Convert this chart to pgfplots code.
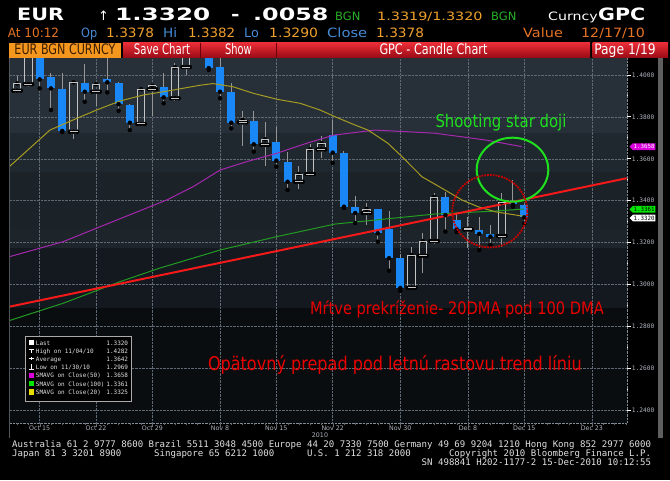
\documentclass[border=0pt]{standalone}
\usepackage{pgfplots}
\pgfplotsset{compat=1.18}
\usepackage{pgfplotstable}
\usepackage{fontspec}
\usepackage{graphicx}
\usetikzlibrary{shapes.symbols}
\setmainfont{DejaVu Sans}
\newfontfamily\monofont{DejaVu Sans Mono}

\definecolor{candleblue}{RGB}{25,135,245}
\definecolor{wickgray}{RGB}{150,150,150}
\definecolor{hollowgray}{RGB}{195,195,195}
\definecolor{sma20}{RGB}{165,155,35}
\definecolor{sma50}{RGB}{165,40,175}
\definecolor{sma100}{RGB}{35,155,35}
\definecolor{trendred}{RGB}{245,25,25}
\definecolor{annred}{RGB}{235,0,0}
\definecolor{anngreen}{RGB}{30,225,30}
\definecolor{circred}{RGB}{200,0,0}
\definecolor{amber}{RGB}{240,160,45}
\definecolor{bbgorange}{RGB}{230,115,35}
\definecolor{steel}{RGB}{70,140,215}
\definecolor{bgngreen}{RGB}{40,175,40}
\definecolor{gridgray}{RGB}{95,105,115}
\definecolor{axgray}{RGB}{130,140,150}
\definecolor{panelline}{RGB}{80,85,90}
\definecolor{lbl}{RGB}{175,180,190}
\definecolor{foot}{RGB}{225,225,225}
\definecolor{boxborder}{RGB}{170,170,170}
\definecolor{scrollgray}{RGB}{95,95,95}
\definecolor{legyellow}{RGB}{230,220,0}
\definecolor{bandA}{RGB}{39,48,56}
\definecolor{bandB}{RGB}{32,40,47}
\definecolor{bandC}{RGB}{27,34,40}
\definecolor{bandD}{RGB}{29,36,42}
\definecolor{bandE}{RGB}{19,25,30}
\definecolor{bandF}{RGB}{10,13,16}
\definecolor{boxorange}{RGB}{245,150,30}
\definecolor{boxtext}{RGB}{60,30,0}
\definecolor{redtop}{RGB}{235,45,55}
\definecolor{redbot}{RGB}{150,10,20}
\definecolor{redsep}{RGB}{110,0,10}
\definecolor{tagmag}{RGB}{220,0,220}
\definecolor{taggreen}{RGB}{0,230,0}

% EUR daily candles, x = trading day (Oct 15 = 0)
\pgfplotstableread{
d  o      h      l      c
-2 1.3925 1.3995 1.3913 1.3960
-1 1.3956 1.4150 1.3944 1.4120
3  1.3729 1.3976 1.3693 1.3965
5  1.3920 1.3968 1.3853 1.3956
9  1.3766 1.3936 1.3761 1.3932
10 1.3932 1.3951 1.3804 1.3949
12 1.3889 1.4056 1.3877 1.4037
13 1.4038 1.4190 1.4000 1.4150
14 1.4160 1.4282 1.4110 1.4230
18 1.3774 1.3828 1.3661 1.3785
20 1.3666 1.3777 1.3565 1.3693
23 1.3490 1.3565 1.3454 1.3527
24 1.3527 1.3670 1.3518 1.3645
25 1.3645 1.3709 1.3602 1.3674
29 1.3341 1.3389 1.3284 1.3360
33 1.2983 1.3179 1.2972 1.3140
34 1.3136 1.3245 1.3054 1.3207
35 1.3207 1.3436 1.3193 1.3417
38 1.3262 1.3323 1.3174 1.3265
41 1.3231 1.3435 1.3180 1.3392
}\upcandles

\pgfplotstableread{
d  o      h      l      c
0  1.4130 1.4150 1.3936 1.3979
1  1.3992 1.4008 1.3833 1.3936
2  1.3933 1.4008 1.3728 1.3733
4  1.3963 1.4051 1.3872 1.3920
6  1.3979 1.4080 1.3917 1.3965
7  1.3963 1.3965 1.3829 1.3861
8  1.3857 1.3860 1.3737 1.3772
11 1.3944 1.4008 1.3865 1.3893
15 1.4170 1.4230 1.4024 1.4033
16 1.4037 1.4090 1.3889 1.3920
17 1.3920 1.3960 1.3745 1.3772
19 1.3782 1.3828 1.3634 1.3669
21 1.3681 1.3750 1.3562 1.3591
22 1.3586 1.3634 1.3451 1.3490
26 1.3713 1.3785 1.3580 1.3629
27 1.3626 1.3637 1.3365 1.3371
28 1.3370 1.3422 1.3293 1.3341
30 1.3359 1.3362 1.3204 1.3244
31 1.3263 1.3352 1.3065 1.3125
32 1.3126 1.3145 1.2969 1.2983
36 1.3416 1.3443 1.3252 1.3331
37 1.3307 1.3341 1.3250 1.3263
39 1.3260 1.3323 1.3164 1.3241
40 1.3241 1.3284 1.3188 1.3228
42 1.3395 1.3499 1.3371 1.3382
43 1.3378 1.3382 1.3290 1.3320
}\downcandles

\begin{document}
\begin{tikzpicture}
\useasboundingbox (0,0) rectangle (670pt,480pt);
\fill[black] (0,0) rectangle (670pt,480pt);

% background bands, panel lines (image pixel coordinates, y down)
\begin{scope}[x=1pt,y=-1pt,yshift=480pt]
  \fill[bandA] (10,58) rectangle (626.7,133);
  \fill[bandB] (10,133) rectangle (626.7,172);
  \fill[bandC] (10,172) rectangle (626.7,229);
  \fill[bandD] (10,229) rectangle (626.7,248);
  \fill[bandE] (10,248) rectangle (626.7,308);
  \fill[bandF] (10,308) rectangle (626.7,423.3);
  \draw[panelline] (9.5,58) -- (9.5,438);
  \draw[axgray, densely dotted] (626.7,58) -- (626.7,423.3);
  \draw[axgray, densely dotted] (10,423.3) -- (626.7,423.3);
\end{scope}

\begin{axis}[
  at={(10pt,56.7pt)}, anchor=south west,
  width=616.7pt, height=365.3pt, scale only axis,
  xmin=-2.635, xmax=52.09, ymin=1.23365, ymax=1.40812,
  axis line style={draw=none},
  xtick={0,5,10,16,21,26,32,38,43,49},
  xticklabels={Oct 15,Oct 22,Oct 29,Nov 8,Nov 15,Nov 22,Nov 30,Dec 8,Dec 15,Dec 23},
  minor xtick={-2,-1,...,52},
  ytick={1.24,1.26,1.28,1.30,1.32,1.34,1.36,1.38,1.40},
  minor ytick={1.25,1.27,1.29,1.31,1.33,1.35,1.37,1.39},
  xtick pos=bottom, ytick pos=right, yticklabel pos=right,
  tick align=outside,
  major tick length=4pt, minor tick length=1.5pt,
  y tick style={white, line width=0.9pt},
  x tick style={gridgray},
  minor tick style={axgray},
  grid=major,
  major grid style={gridgray, densely dotted, line width=0.5pt},
  yticklabel style={font=\monofont\fontsize{6.2}{7}\selectfont, text=lbl, inner sep=1pt,
    /pgf/number format/.cd, fixed, fixed zerofill, precision=4},
  xticklabel style={font=\fontsize{6.3}{7}\selectfont, text=lbl, inner sep=1pt, yshift=3pt},
  /pgf/number format/assume math mode=true,
]
% falling candles: wick and filled body
\addplot[forget plot, only marks, mark=none, error bars/.cd, y dir=plus, y explicit,
  error mark=none, error bar style={draw=wickgray, line width=1pt}]
  table[x=d, y=l, y error plus expr=\thisrow{h}-\thisrow{l}] {\downcandles};
\addplot[forget plot, only marks, mark=none, error bars/.cd, y dir=plus, y explicit,
  error mark=none, error bar style={draw=candleblue, line width=8pt}]
  table[x=d, y=c, y error plus expr=\thisrow{o}-\thisrow{c}] {\downcandles};
% rising candles: wicks and hollow body
\addplot[forget plot, only marks, mark=none, error bars/.cd, y dir=plus, y explicit,
  error mark=none, error bar style={draw=wickgray, line width=1pt}]
  table[x=d, y=c, y error plus expr=\thisrow{h}-\thisrow{c}] {\upcandles};
\addplot[forget plot, only marks, mark=none, error bars/.cd, y dir=minus, y explicit,
  error mark=none, error bar style={draw=wickgray, line width=1pt}]
  table[x=d, y=o, y error minus expr=\thisrow{o}-\thisrow{l}] {\upcandles};
\addplot[forget plot, only marks, mark=none, error bars/.cd, y dir=plus, y explicit,
  error mark=none, error bar style={draw=hollowgray, line width=1pt}]
  table[x expr=\thisrow{d}-0.33, y=o, y error plus expr=\thisrow{c}-\thisrow{o}] {\upcandles};
\addplot[forget plot, only marks, mark=none, error bars/.cd, y dir=plus, y explicit,
  error mark=none, error bar style={draw=hollowgray, line width=1pt}]
  table[x expr=\thisrow{d}+0.33, y=o, y error plus expr=\thisrow{c}-\thisrow{o}] {\upcandles};
\addplot[forget plot, only marks, mark=-, mark size=4pt, mark options={draw=hollowgray, line width=1pt}]
  table[x=d, y=o] {\upcandles};
\addplot[forget plot, only marks, mark=-, mark size=4pt, mark options={draw=hollowgray, line width=1pt}]
  table[x=d, y=c] {\upcandles};

% SMAVG 100
\addplot[sma100, line width=1pt] coordinates {
  (-2.70,1.2827) (2.09,1.2910) (7.13,1.3013) (10.67,1.3078) (16.0,1.3164)
  (21.03,1.3228) (26.2,1.3288) (35.07,1.3336) (40.4,1.3350) (42.97,1.3360)};
% SMAVG 50
\addplot[sma50, line width=1pt] coordinates {
  (-2.70,1.3132) (2.09,1.3204) (5.35,1.3275) (8.31,1.3339) (11.27,1.3403)
  (13.63,1.3467) (16.0,1.3546) (18.37,1.3586) (21.03,1.3626) (23.69,1.3674)
  (26.11,1.3713) (29.75,1.3737) (35.07,1.3722) (39.51,1.3690) (42.77,1.3658)};
% SMAVG 20
\addplot[sma20, line width=1pt] coordinates {
  (-2.70,1.3562) (0.91,1.3737) (2.95,1.3785) (5.06,1.3833) (7.13,1.3876)
  (9.17,1.3904) (11.83,1.3928) (14.22,1.3951) (15.38,1.3959) (17.15,1.3944)
  (18.93,1.3913) (21.06,1.3884) (23.10,1.3865) (24.87,1.3833) (26.20,1.3801)
  (27.98,1.3761) (29.13,1.3737) (30.90,1.3674) (32.15,1.3610) (33.92,1.3514)
  (35.96,1.3451) (37.47,1.3403) (38.89,1.3371) (40.40,1.3347) (42.97,1.3325)};
% summer up-trend line
\addplot[trendred, line width=2pt] coordinates {(-2.635,1.2894) (52.09,1.3507)};
\end{axis}

\begin{scope}[x=1pt,y=-1pt,yshift=480pt, every node/.style={inner sep=0pt, outer sep=0pt}]
  % annotations
  \draw[anngreen, line width=2pt] (512.5,169.7) ellipse [x radius=35.8pt, y radius=32pt];
  \draw[circred, line width=1.8pt, densely dotted] (489.8,211.2) ellipse [x radius=37.5pt, y radius=36.2pt];
  \node[anchor=base, text=anngreen, font=\fontsize{17.5}{18}\selectfont] at (501,127.3) {\scalebox{0.85}[1]{Shooting star doji}};
  \node[anchor=base west, text=annred, font=\fontsize{17.2}{18}\selectfont] at (310,315) {\scalebox{0.85}[1]{Mŕtve prekríženie- 20DMA pod 100 DMA}};
  \node[anchor=base west, text=annred, font=\fontsize{18.9}{19}\selectfont] at (208,370) {\scalebox{0.85}[1]{Opätovný prepad pod letnú rastovu trend líniu}};

  % value tags on the right axis
  \node[signal, signal to=west, fill=tagmag, text=white, inner sep=0.8pt, minimum height=6.7pt, anchor=west,
    font=\monofont\fontsize{5.8}{6}\selectfont] at (629.5,146.7) {1.3658};
  \node[signal, signal to=west, fill=taggreen, text=black, inner sep=0.8pt, minimum height=6.7pt, anchor=west,
    font=\monofont\fontsize{5.8}{6}\selectfont] at (629.5,209.3) {1.3361};
  \node[signal, signal to=west, fill=white, text=black, inner sep=0.8pt, minimum height=6.7pt, anchor=west,
    font=\monofont\fontsize{5.8}{6}\selectfont] at (629.5,218) {1.3320};
  \fill[scrollgray] (657.5,58) rectangle (662.5,438);
  \node[text=lbl, font=\fontsize{6.3}{7}\selectfont] at (320,435.5) {2010};

  % info box
  \draw[boxborder, fill=black] (25,336) rectangle (130.7,400.7);
  \fill[white] (28.5,340) rectangle (34,345.5);
  \draw[white, line width=0.8pt] (29,349) -- (33.5,349) (31.2,349) -- (31.2,353);
  \draw[white, line width=0.8pt] (28.5,358.7) -- (34,358.7) (31.2,357) -- (31.2,360.4);
  \draw[white, line width=0.8pt] (31.2,364) -- (31.2,369) (29,369) -- (33.5,369);
  \fill[tagmag] (28.5,372.5) rectangle (34,378);
  \fill[taggreen] (28.5,380.8) rectangle (34,386.3);
  \fill[legyellow] (28.5,389.2) rectangle (34,394.7);
  \begin{scope}[every node/.style={inner sep=0pt, font=\monofont\fontsize{6}{6}\selectfont, text=foot}]
    \node[anchor=base west] at (35.7,345) {Last};
    \node[anchor=base west] at (35.7,353.2) {High on 11/04/10};
    \node[anchor=base west] at (35.7,361.4) {Average};
    \node[anchor=base west] at (35.7,369.6) {Low on 11/30/10};
    \node[anchor=base west] at (35.7,377.8) {SMAVG on Close(50)};
    \node[anchor=base west] at (35.7,386.0) {SMAVG on Close(100)};
    \node[anchor=base west] at (35.7,394.2) {SMAVG on Close(20)};
    \node[anchor=base east] at (128.3,345) {1.3320};
    \node[anchor=base east] at (128.3,353.2) {1.4282};
    \node[anchor=base east] at (128.3,361.4) {1.3642};
    \node[anchor=base east] at (128.3,369.6) {1.2969};
    \node[anchor=base east] at (128.3,377.8) {1.3658};
    \node[anchor=base east] at (128.3,386.0) {1.3361};
    \node[anchor=base east] at (128.3,394.2) {1.3325};
  \end{scope}

  % header row 1
  \begin{scope}[every node/.style={inner sep=0pt, anchor=base west}]
    \node[text=white, font=\bfseries\fontsize{17}{17}\selectfont] at (17,20.7) {\scalebox{1.22}[1]{EUR}};
    \node[text=white, font=\fontsize{13}{13}\selectfont] at (98,20.7) {↑};
    \node[text=white, font=\bfseries\fontsize{17}{17}\selectfont] at (115,20.7) {\scalebox{1.45}[1]{1.3320}};
    \node[text=white, font=\bfseries\fontsize{17}{17}\selectfont] at (231,20.7) {\scalebox{1.2}[1]{-}};
    \node[text=white, font=\bfseries\fontsize{17}{17}\selectfont] at (253,20.7) {\scalebox{1.4}[1]{.0058}};
    \node[text=bgngreen, font=\fontsize{11.5}{12}\selectfont] at (335,20.7) {BGN};
    \node[text=amber, font=\fontsize{11.5}{12}\selectfont] at (377,20.7) {\scalebox{1.25}[1]{1.3319/1.3320}};
    \node[text=bgngreen, font=\fontsize{11.5}{12}\selectfont] at (491,20.7) {BGN};
    \node[text=white, font=\fontsize{11.5}{12}\selectfont] at (548,20.7) {\scalebox{1.23}[1]{Curncy}};
    \node[text=white, font=\bfseries\fontsize{17}{17}\selectfont] at (598,20.7) {\scalebox{1.21}[1]{GPC}};
    % header row 2
    \node[text=bbgorange, font=\fontsize{12.8}{13}\selectfont] at (7.7,37.7) {\scalebox{0.94}[1]{At 10:12}};
    \node[text=steel, font=\fontsize{12.8}{13}\selectfont] at (81,37.7) {\scalebox{0.88}[1]{Op}};
    \node[text=amber, font=\fontsize{12.8}{13}\selectfont] at (106,37.7) {\scalebox{1.07}[1]{1.3378}};
    \node[text=steel, font=\fontsize{12.8}{13}\selectfont] at (163,37.7) {\scalebox{1.06}[1]{Hi}};
    \node[text=amber, font=\fontsize{12.8}{13}\selectfont] at (188,37.7) {\scalebox{1.05}[1]{1.3382}};
    \node[text=steel, font=\fontsize{12.8}{13}\selectfont] at (244,37.7) {Lo};
    \node[text=amber, font=\fontsize{12.8}{13}\selectfont] at (269,37.7) {\scalebox{1.09}[1]{1.3290}};
    \node[text=steel, font=\fontsize{12.8}{13}\selectfont] at (327,37.7) {\scalebox{1.15}[1]{Close}};
    \node[text=amber, font=\fontsize{12.8}{13}\selectfont] at (376,37.7) {\scalebox{1.07}[1]{1.3378}};
    \node[text=bbgorange, font=\fontsize{12.8}{13}\selectfont] at (523,37.7) {\scalebox{1.13}[1]{Value}};
    \node[text=bbgorange, font=\fontsize{12.8}{13}\selectfont] at (581,37.7) {\scalebox{1.11}[1]{12/17/10}};
  \end{scope}

  % header bar
  \fill[boxorange] (9.3,42.7) rectangle (120.7,58);
  \shade[top color=redtop, bottom color=redbot] (123,42.7) rectangle (590,58);
  \shade[top color=redtop, bottom color=redbot] (592.5,42.7) rectangle (668,58);
  \draw[redsep, line width=1pt] (200.8,42.7) -- (200.8,58) (276.8,42.7) -- (276.8,58);
  \begin{scope}[every node/.style={inner sep=0pt, anchor=base, font=\fontsize{14.5}{15}\selectfont}]
    \node[text=boxtext] at (65,55) {\scalebox{0.77}[1]{EUR BGN CURNCY}};
    \node[text=white] at (162,55) {\scalebox{0.70}[1]{Save Chart}};
    \node[text=white] at (238.5,55) {\scalebox{0.68}[1]{Show}};
    \node[text=white] at (433.5,55) {\scalebox{0.775}[1]{GPC - Candle Chart}};
    \node[text=white] at (625,55) {\scalebox{0.85}[1]{Page 1/19}};
  \end{scope}

  % footer
  \begin{scope}[every node/.style={inner sep=0pt, anchor=base west, text=foot, font=\monofont\fontsize{9.07}{9}\selectfont}]
    \node at (12,447.5) {Australia 61 2 9777 8600 Brazil 5511 3048 4500 Europe 44 20 7330 7500 Germany 49 69 9204 1210 Hong Kong 852 2977 6000};
    \node at (12,456.3) {Japan 81 3 3201 8900};
    \node at (154,456.3) {Singapore 65 6212 1000};
    \node at (306.8,456.3) {U.S. 1 212 318 2000};
    \node at (448.8,456.3) {Copyright 2010 Bloomberg Finance L.P.};
    \node at (421.5,465.3) {SN 498841 H202-1177-2 15-Dec-2010 10:12:55};
  \end{scope}
\end{scope}
\end{tikzpicture}
\end{document}
